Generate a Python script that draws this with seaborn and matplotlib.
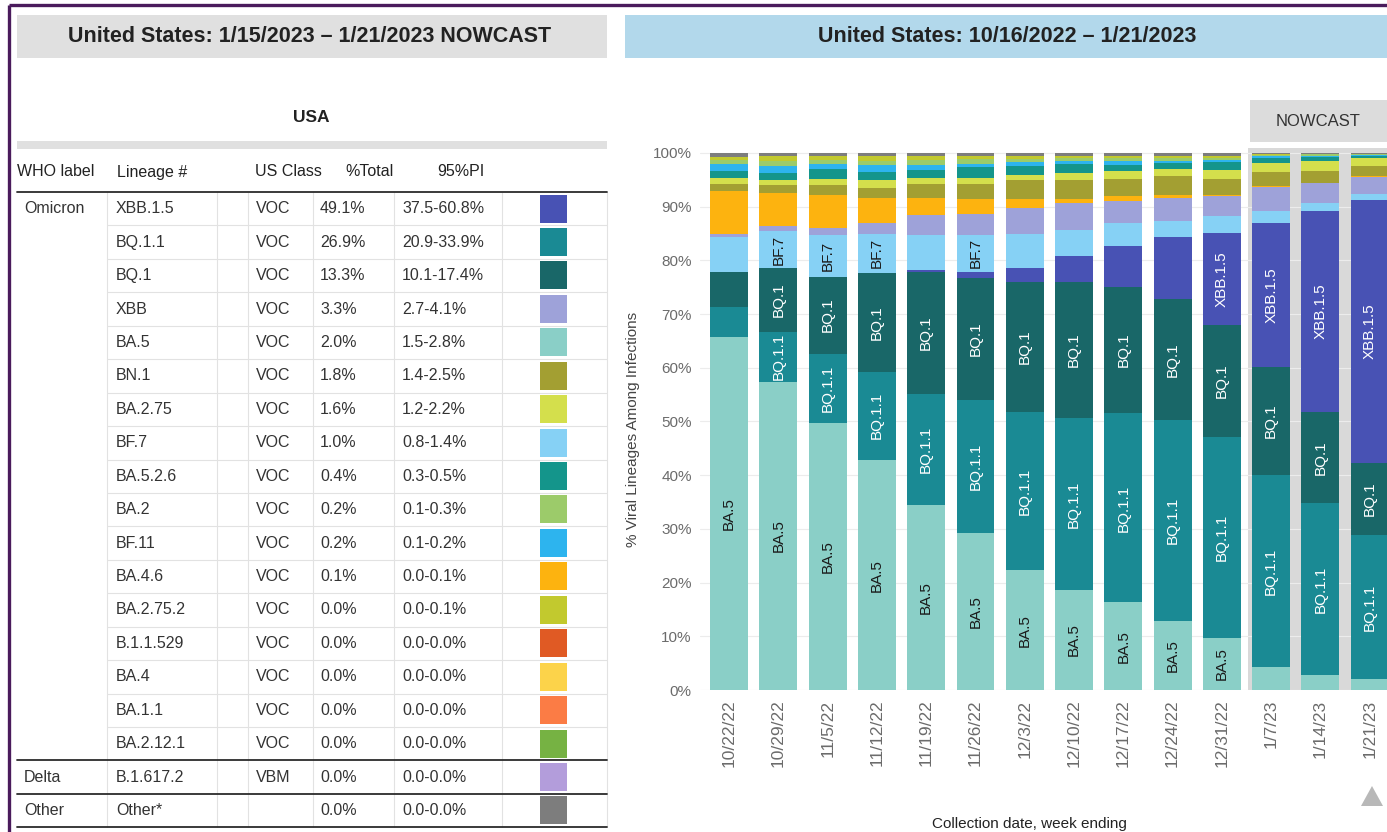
"""Variant proportions snapshot: nowcast table on the left, weekly stacked shares on the right."""

import matplotlib

matplotlib.use("Agg")
import matplotlib.pyplot as plt
import pandas as pd
import seaborn as sns
from matplotlib.patches import Polygon, Rectangle

W, H = 1387, 832

# --- nowcast table, week ending 1/21/2023
who_labels = ["Omicron"] + [""] * 16 + ["Delta", "Other"]
lineages = [
    "XBB.1.5", "BQ.1.1", "BQ.1", "XBB", "BA.5", "BN.1", "BA.2.75", "BF.7", "BA.5.2.6",
    "BA.2", "BF.11", "BA.4.6", "BA.2.75.2", "B.1.1.529", "BA.4", "BA.1.1", "BA.2.12.1",
    "B.1.617.2", "Other*",
]
us_class = ["VOC"] * 17 + ["VBM", ""]
pct_total = [49.1, 26.9, 13.3, 3.3, 2.0, 1.8, 1.6, 1.0, 0.4, 0.2, 0.2, 0.1, 0.0, 0.0, 0.0, 0.0, 0.0, 0.0, 0.0]
pi_low = [37.5, 20.9, 10.1, 2.7, 1.5, 1.4, 1.2, 0.8, 0.3, 0.1, 0.1, 0.0, 0.0, 0.0, 0.0, 0.0, 0.0, 0.0, 0.0]
pi_high = [60.8, 33.9, 17.4, 4.1, 2.8, 2.5, 2.2, 1.4, 0.5, 0.3, 0.2, 0.1, 0.1, 0.0, 0.0, 0.0, 0.0, 0.0, 0.0]
lineage_colors = [
    "#4852b4", "#1a8a94", "#196768", "#9ea2d9", "#8acfc7", "#a39f32", "#d4df4c", "#86d1f5",
    "#14958b", "#9ccb6a", "#2db4ee", "#fdb30f", "#c2c92e", "#e05a24", "#fcd34a", "#fb7c45",
    "#76b243", "#b39ddb", "#7d7d7d",
]

# --- weekly shares (%), bars bottom to top
weeks = ["10/22/22", "10/29/22", "11/5/22", "11/12/22", "11/19/22", "11/26/22", "12/3/22",
         "12/10/22", "12/17/22", "12/24/22", "12/31/22", "1/7/23", "1/14/23", "1/21/23"]
ba5 = [65.8, 57.4, 49.7, 42.8, 34.5, 29.3, 22.3, 18.6, 16.3, 12.8, 9.7, 4.3, 2.8, 2.0]
bq11 = [5.6, 9.3, 12.9, 16.5, 20.7, 24.7, 29.5, 32.0, 35.2, 37.5, 37.5, 35.7, 32.0, 26.9]
bq1 = [6.5, 11.8, 14.4, 18.3, 22.7, 22.7, 24.2, 25.4, 23.6, 22.6, 20.7, 20.2, 17.0, 13.3]
xbb15 = [0.0, 0.0, 0.0, 0.0, 0.3, 1.1, 2.5, 4.8, 7.5, 11.5, 17.2, 26.7, 37.4, 49.1]
bf7 = [6.5, 7.0, 7.7, 7.4, 6.6, 7.0, 6.5, 4.9, 4.3, 2.9, 3.2, 2.3, 1.5, 1.0]
xbb = [0.5, 0.9, 1.4, 1.9, 3.7, 3.8, 4.7, 4.9, 4.2, 4.3, 3.7, 4.5, 3.7, 3.3]
ba46 = [8.1, 6.2, 6.0, 4.7, 3.1, 2.9, 1.7, 0.8, 0.8, 0.6, 0.2, 0.1, 0.1, 0.1]
bn1 = [1.2, 1.4, 1.9, 1.9, 2.7, 2.8, 3.6, 3.6, 3.2, 3.5, 3.0, 2.7, 2.2, 1.8]
ba275 = [1.1, 0.9, 1.2, 1.4, 1.0, 1.0, 0.9, 1.3, 1.6, 1.4, 1.7, 1.7, 1.9, 1.6]
ba526 = [1.3, 1.4, 1.9, 1.6, 1.6, 2.0, 1.6, 1.7, 1.1, 1.1, 1.4, 0.8, 0.6, 0.4]
bf11 = [1.3, 1.2, 0.8, 1.2, 0.9, 0.7, 0.8, 0.5, 0.7, 0.4, 0.4, 0.4, 0.3, 0.2]
ba2 = [0.8, 1.0, 0.8, 0.9, 0.9, 0.8, 0.6, 0.5, 0.5, 0.5, 0.4, 0.3, 0.3, 0.2]
ba2752 = [0.6, 0.9, 0.7, 0.8, 0.7, 0.6, 0.5, 0.4, 0.4, 0.4, 0.3, 0.1, 0.1, 0.0]
other = [0.7, 0.6, 0.6, 0.6, 0.6, 0.6, 0.6, 0.6, 0.6, 0.5, 0.6, 0.2, 0.1, 0.1]

stack_order = ["BA.5", "BQ.1.1", "BQ.1", "XBB.1.5", "BF.7", "XBB", "BA.4.6", "BN.1",
               "BA.2.75", "BA.5.2.6", "BF.11", "BA.2", "BA.2.75.2", "Other*"]
# smallest share (%) at which a name is written inside its segment
label_min = {"BA.5": 6.0, "BQ.1.1": 9.0, "BQ.1": 8.0, "XBB.1.5": 12.0, "BF.7": 6.9}
label_color = {"BA.5": "#1a1a1a", "BF.7": "#1a1a1a", "BQ.1.1": "white", "BQ.1": "white", "XBB.1.5": "white"}

shares = pd.DataFrame({
    "BA.5": ba5, "BQ.1.1": bq11, "BQ.1": bq1, "XBB.1.5": xbb15, "BF.7": bf7, "XBB": xbb,
    "BA.4.6": ba46, "BN.1": bn1, "BA.2.75": ba275, "BA.5.2.6": ba526, "BF.11": bf11,
    "BA.2": ba2, "BA.2.75.2": ba2752, "Other*": other,
}, index=weeks)
tops = shares[stack_order].cumsum(axis=1)
color_of = dict(zip(lineages, lineage_colors))

sns.set_theme(style="white")
plt.rcParams["font.family"] = ["Liberation Sans", "DejaVu Sans"]

fig = plt.figure(figsize=(W / 100, H / 100), dpi=100)

# full-figure layer in pixel coordinates for the table and frames
bg = fig.add_axes([0, 0, 1, 1])
bg.set_xlim(0, W)
bg.set_ylim(H, 0)
bg.axis("off")

purple = "#4a1b5c"
bg.plot([8.5, W], [4.5, 4.5], color=purple, lw=2.4, solid_capstyle="butt")
bg.plot([8.5, 8.5], [4.5, H], color=purple, lw=2.4, solid_capstyle="butt")

bg.add_patch(Rectangle((17, 15), 590, 43, color="#e0e0e0", lw=0))
bg.text(310, 37, "United States: 1/15/2023 \u2013 1/21/2023 NOWCAST", ha="center", va="center",
        fontsize=15.5, fontweight="bold", color="#222222")
bg.add_patch(Rectangle((625, 15), W - 625, 43, color="#b2d8eb", lw=0))
bg.text(1007, 37, "United States: 10/16/2022 \u2013 1/21/2023", ha="center", va="center",
        fontsize=15.5, fontweight="bold", color="#222222")

bg.text(311, 118, "USA", ha="center", va="center", fontsize=12.5, fontweight="bold", color="#222222")
bg.add_patch(Rectangle((17, 141), 590, 8, color="#e0e0e0", lw=0))

# table
head_y = 172
for x, txt in [(17, "WHO label"), (117, "Lineage #"), (255, "US Class"), (345, "%Total"), (437, "95%PI")]:
    bg.text(x, head_y, txt, ha="left", va="center", fontsize=11.5, color="#222222")

row_top = 192
row_h = 33.44
n_rows = len(lineages)
grid_c = "#e2e2e2"
for x in [107, 217, 248, 313, 394, 502, 607]:
    bg.plot([x, x], [row_top, row_top + n_rows * row_h], color=grid_c, lw=0.8)
for i in range(1, 17):
    y = row_top + i * row_h
    bg.plot([107, 607], [y, y], color=grid_c, lw=0.8)
for y in [row_top, row_top + 17 * row_h, row_top + 18 * row_h, row_top + n_rows * row_h]:
    bg.plot([17, 607], [y, y], color="#2b2b2b", lw=1.3)

for i in range(n_rows):
    yc = row_top + (i + 0.5) * row_h
    kw = dict(ha="left", va="center", fontsize=11.5, color="#333333")
    if who_labels[i]:
        bg.text(24, yc, who_labels[i], **kw)
    bg.text(116, yc, lineages[i], **kw)
    if us_class[i]:
        bg.text(256, yc, us_class[i], **kw)
    bg.text(320, yc, f"{pct_total[i]:.1f}%", **kw)
    bg.text(402, yc, f"{pi_low[i]:.1f}-{pi_high[i]:.1f}%", **kw)
    bg.add_patch(Rectangle((540, row_top + i * row_h + 2.5), 27, 28, color=lineage_colors[i], lw=0))

# NOWCAST tab and scroll arrow
bg.add_patch(Rectangle((1250, 100), W - 1250, 42, color="#dcdcdc", lw=0))
bg.text(1318, 121, "NOWCAST", ha="center", va="center", fontsize=12, color="#333333")
bg.add_patch(Polygon([(1361, 806), (1383, 806), (1372, 786)], closed=True, color="#b8b8b8", lw=0))

# stacked bars
ax = fig.add_axes([700 / W, (H - 690) / H, (W - 700) / W, (690 - 148) / H])
ax.patch.set_alpha(0)
ax.axvspan(10.52, 14, color="#d9d9d9", lw=0, zorder=0)
for name in reversed(stack_order):
    sns.barplot(x=weeks, y=tops[name].values, order=weeks, color=color_of[name], saturation=1,
                width=0.77, errorbar=None, linewidth=0, ax=ax, zorder=2)

for i, week in enumerate(weeks):
    base = 0.0
    for name in stack_order:
        v = shares.loc[week, name]
        if name in label_min and v >= label_min[name]:
            ax.text(i, base + v / 2, name, rotation=90, ha="center", va="center",
                    fontsize=11, color=label_color[name], zorder=3)
        base += v

ax.set_xlim(-0.59, 13.35)
ax.set_ylim(0, 100.93)
ax.set_yticks(range(0, 101, 10))
ax.set_yticklabels([f"{v}%" for v in range(0, 101, 10)])
ax.yaxis.grid(True, color="#ececec", lw=0.8)
ax.xaxis.grid(False)
ax.set_axisbelow(True)
for s in ax.spines.values():
    s.set_visible(False)
ax.tick_params(axis="y", length=0, labelsize=11, labelcolor="#6b6b6b", pad=6)
ax.tick_params(axis="x", length=0, labelsize=12.5, labelcolor="#6b6b6b", pad=7, rotation=90)
ax.set_ylabel("% Viral Lineages Among Infections", fontsize=11, color="#444444")
ax.yaxis.set_label_coords(-0.087, 0.48)
ax.set_xlabel("Collection date, week ending", fontsize=11, color="#222222")
ax.xaxis.set_label_coords(0.48, -0.234)

fig.savefig("out.png", dpi=100)
plt.close(fig)
